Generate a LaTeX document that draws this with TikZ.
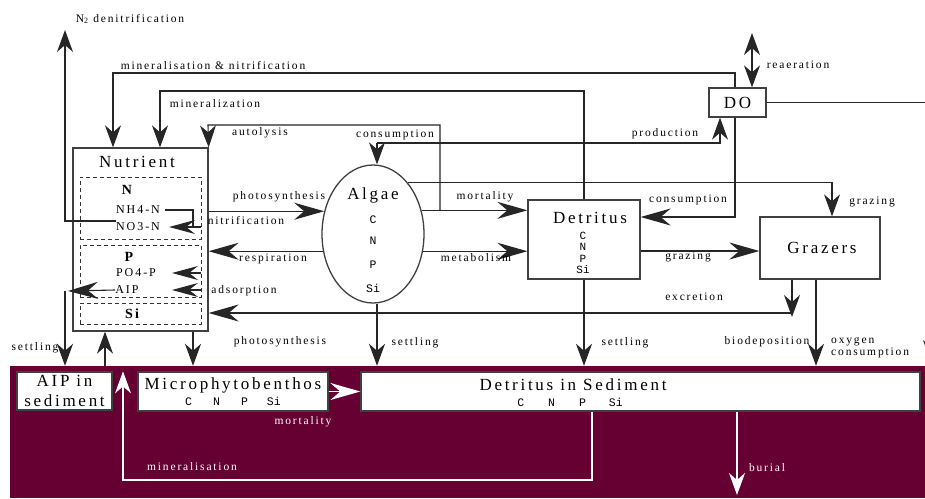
\documentclass[tikz,border=0pt]{standalone}
\usepackage{fontspec}
\setmainfont{Liberation Serif}
\newfontfamily\lab[LetterSpace=16]{Liberation Serif}
\newfontfamily\labmono{Liberation Mono}
\usetikzlibrary{arrows.meta,shapes.geometric,calc}
\definecolor{bedcol}{RGB}{102,0,51}
\begin{document}
\begin{tikzpicture}[x=1pt,y=-1pt]
\tikzset{
  conn/.style={draw=black!85,line width=1.1pt},
  ah/.style={conn,-{Stealth[length=30pt,width=17pt,inset=10pt]}},
  av/.style={conn,-{Stealth[length=22pt,width=16pt,inset=7pt]}},
  ai/.style={conn,-{Stealth[length=26pt,width=14pt,inset=9pt]}},
  box/.style={draw=black!75,line width=1.3pt,fill=white,inner sep=0pt},
  dbox/.style={draw=black!80,line width=0.9pt,dash pattern=on 4pt off 3pt,inner sep=0pt},
  ttl/.style={font=\lab\fontsize{17}{20}\selectfont,inner sep=0pt},
  lbl/.style={font=\lab\fontsize{11.5}{12}\selectfont,inner sep=0pt},
  sublbl/.style={font=\lab\fontsize{12}{13}\selectfont,inner sep=0pt},
  boldlbl/.style={font=\lab\bfseries\fontsize{14}{15}\selectfont,inner sep=0pt},
  mono/.style={font=\labmono\fontsize{11.5}{12}\selectfont,inner sep=0pt},
  wl/.style={lbl,text=white},
}
\useasboundingbox (0,0) rectangle (925,498);
\clip (0,0) rectangle (925,498);
\fill[white] (0,0) rectangle (925,498);

% sediment bed
\node[fill=bedcol,inner sep=0pt,minimum width=915pt,minimum height=132pt] (Bed) at (467.5,432) {};

% boxes
\node[box,minimum width=135pt,minimum height=183pt] (Nut) at (140.5,239.5) {};
\node[dbox,minimum width=121pt,minimum height=62pt] (Nbox) at (140.5,208) {};
\node[dbox,minimum width=121pt,minimum height=52pt] (Pbox) at (140.5,271) {};
\node[dbox,minimum width=121pt,minimum height=21pt] (Sibox) at (140.5,313.5) {};
\node[box,ellipse,minimum width=102pt,minimum height=138pt] (Alg) at (373,234) {};
\node[box,minimum width=112pt,minimum height=79pt] (Det) at (584,239.5) {};
\node[box,minimum width=120pt,minimum height=62pt] (Gra) at (820,248) {};
\node[box,ttl,minimum width=57pt,minimum height=29pt] (DO) at (737.5,102.5) {DO};
\node[box,ttl,align=center,minimum width=95pt,minimum height=38pt] (AIPs) at (64.5,391) {AIP in\\sediment};
\node[box,minimum width=190pt,minimum height=39pt] (Mic) at (233,391.5) {};
\node[box,minimum width=559pt,minimum height=39pt] (Sed) at (640.5,391.5) {};

% box texts
\node[ttl] (NutT) at (137,162) {Nutrient};
\node[boldlbl] (Nl) at (127,190) {N};
\node[sublbl] (NH4) at (138,210) {NH4-N};
\node[sublbl] (NO3) at (138,227) {NO3-N};
\node[boldlbl] (Pl) at (129,257) {P};
\node[sublbl] (PO4) at (136,273) {PO4-P};
\node[sublbl] (AIP) at (127,290) {AIP};
\node[boldlbl] (Sil) at (132,314) {Si};
\node[ttl] (AlgT) at (373,195) {Algae};
\node[mono] (AC) at (373,220) {C};
\node[mono] (AN) at (373,241) {N};
\node[mono] (AP) at (373,265) {P};
\node[mono] (ASi) at (373,288) {Si};
\node[ttl] (DetT) at (590,218) {Detritus};
\node[mono,align=center,font=\labmono\fontsize{11}{11.3}\selectfont] (DetE) at (583,253) {C\\N\\P\\Si};
\node[ttl] (GraT) at (822,248) {Grazers};
\node[ttl] (MicT) at (233,385) {Microphytobenthos};
\node[mono] (MicE) at (233,401) {C\hspace*{21pt}N\hspace*{21pt}P\hspace*{19pt}Si};
\node[ttl] (SedT) at (573,385) {Detritus in Sediment};
\node[mono] (SedE) at (570,402) {C\hspace*{24pt}N\hspace*{24pt}P\hspace*{23pt}Si};

% connectors
\coordinate (den) at (65,30);
\draw[av] (NO3.west |- 0,221) -| (den);
\draw[av] (DO.north -| 735,0) |- (113,73) -- (Nut.north -| 113,0);
\draw[av] (Det.north) |- (160,91) -- (Nut.north -| 160,0);
\coordinate (aut) at (Alg.26 -| 440,0);
\draw[av] (aut) |- (208,125) -- (Nut.north east);
\coordinate (cp) at (377,143);
\draw[av] (cp) -- (Alg.north -| cp);
\draw[av] (cp) -| (DO.south -| 720,0);
\draw[ah] (DO.south -| 735,0) |- (Det.east |- 0,217);
\draw[av] (DO.east) -| (931,362);
\draw[conn,{Stealth[length=22pt,width=16pt,inset=7pt]}-{Stealth[length=22pt,width=16pt,inset=7pt]}] (752,33) -- (DO.north -| 752,0);

\draw[ah] (Nut.east |- Alg.155) -- (Alg.155);
\draw[ah] (Alg.199) -- (Nut.east |- Alg.199);
\draw[ah] (Alg.26) -- (Det.west |- Alg.26);
\draw[ah] (Alg.-19) -- (Det.west |- Alg.-19);
\draw[av] (Alg.56) -| (Gra.north -| 832,0);
\draw[ah] (Det.east |- 0,251) -- (Gra.west |- 0,251);
\draw[av] (Gra.south -| 792,0) -- (792,317);
\draw[ah] (792,313) -- (Nut.east |- 0,313);
\draw[av] (Gra.south -| 816,0) -- (Bed.north -| 816,0);
\draw[av] (Alg.south -| 377,0) -- (Bed.north -| 377,0);
\draw[av] (Det.south) -- (Bed.north -| Det.south);

% inside nutrient
\draw[conn] ([xshift=5pt]NH4.east) -| (193,227);
\draw[ai] (201,227) -- ([xshift=9pt]NO3.east);
\draw[ai] (201,273) -- (172,273);
\draw[ai] (201,290) -- (172,290);

% AIP settling and exchanges with sediment
\coordinate (aipc) at (65,291);
\draw[ah] (AIP.west) -- ($(aipc)+(3,0)$);
\draw[av] (aipc) -- (Bed.north -| aipc);
\draw[av] (Bed.north -| 105,0) -- (Nut.south -| 105,0);
\draw[av] (Nut.south -| 193,0) -- (Bed.north -| 193,0);

% white connectors in sediment
\draw[av,draw=white] (Sed.south -| 592,0) |- (123,480) -- (Mic.north -| 123,0);
\draw[av,draw=white] (Sed.south -| 737,0) -- (737,495);
\draw[ah,draw=white] (Mic.east) -- (Sed.west);

% labels
\node[lbl] (l1) at (130,19) {N\textsubscript{2} denitrification};
\node[lbl] (l2) at (213,66) {mineralisation \& nitrification};
\node[lbl] (l3) at (215,104) {mineralization};
\node[lbl] (l4) at (260,133) {autolysis};
\node[lbl] (l5) at (395,135) {consumption};
\node[lbl] (l6) at (665,134) {production};
\node[lbl] (l7) at (798,65) {reaeration};
\node[lbl] (l8) at (688,200) {consumption};
\node[lbl] (l9) at (872,202) {grazing};
\node[lbl] (l10) at (279,197) {photosynthesis};
\node[lbl] (l11) at (246,221) {nitrification};
\node[lbl] (l12) at (273,259) {respiration};
\node[lbl] (l13) at (244,291) {adsorption};
\node[lbl] (l14) at (485,197) {mortality};
\node[lbl] (l15) at (476,258) {metabolism};
\node[lbl] (l16) at (688,257) {grazing};
\node[lbl] (l17) at (694,297) {excretion};
\node[lbl] (l18) at (767,342) {biodeposition};
\node[lbl,anchor=west,align=left] (l19) at (831,348) {oxygen\\consumption};
\node[lbl] (l20) at (35,348) {settling};
\node[lbl] (l21) at (280,342) {photosynthesis};
\node[lbl] (l22) at (415,343) {settling};
\node[lbl] (l23) at (625,343) {settling};
\node[wl] (l24) at (303,422) {mortality};
\node[wl] (l25) at (192,467) {mineralisation};
\node[wl] (l26) at (767,468) {burial};
\end{tikzpicture}
\end{document}
